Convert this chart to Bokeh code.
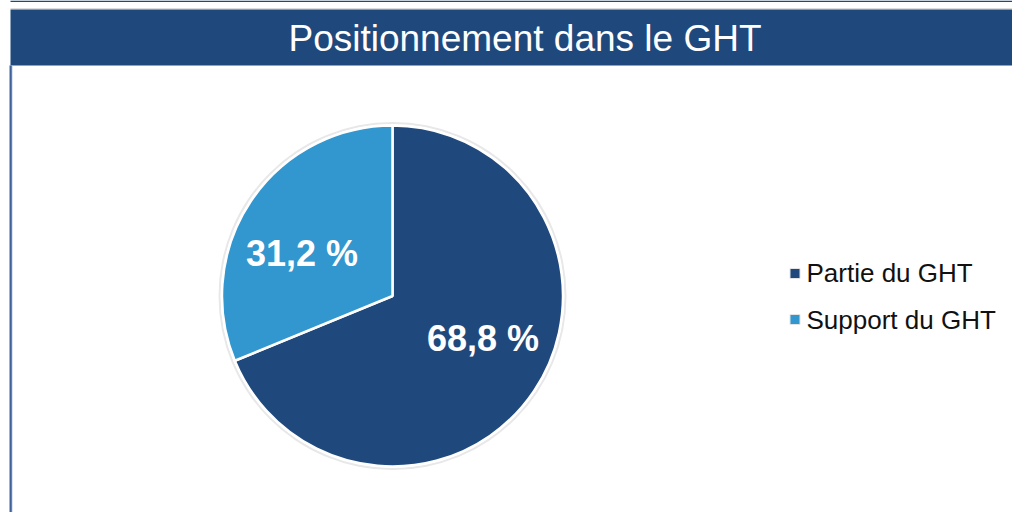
import math
from bokeh.plotting import figure
from bokeh.models import Range1d, ColumnDataSource
from bokeh.core.properties import value
from bokeh.embed import file_html
from bokeh.resources import INLINE

categories = ["Partie du GHT", "Support du GHT"]
shares = [68.8, 31.2]
colors = ["#1F497D", "#3296CF"]
title_text = "Positionnement dans le GHT"

W, H = 1012, 512
p = figure(width=W, height=H, output_backend="svg", toolbar_location=None,
           x_range=Range1d(0, W), y_range=Range1d(0, H), min_border=0)
p.axis.visible = False
p.grid.visible = False
p.outline_line_color = None
p.background_fill_color = "white"
p.border_fill_color = "white"

# title bar and frame
p.quad(left=[10], right=[W], top=[H], bottom=[H - 1.5], fill_color="#1F497D", line_color=None)
p.quad(left=[10], right=[W], top=[H - 7.5], bottom=[H - 9], fill_color="#DCDCDC", line_color=None)
p.quad(left=[10], right=[W], top=[H - 9], bottom=[H - 65], fill_color="#1F497D", line_color=None)
p.quad(left=[8.5], right=[12], top=[H - 65], bottom=[0], fill_color="#B8C7DD", line_color=None)
p.quad(left=[9.3], right=[11.2], top=[H - 65], bottom=[0], fill_color="#3F629A", line_color=None)
p.text(x=[524.5], y=[H - 37.5], text=[title_text], text_color="white",
       text_font=value("Liberation Sans"), text_font_size="37px",
       text_align="center", text_baseline="middle")

# pie
cx, cy, R = 392, H - 295.5, 170.5
label_r, label_turn = 100, 0.15
total = sum(shares)
starts, ends, lx, ly, ltxt = [], [], [], [], []
acc = 0.0
for v in shares:
    a0 = math.pi / 2 - 2 * math.pi * acc / total
    a1 = math.pi / 2 - 2 * math.pi * (acc + v) / total
    starts.append(a0)
    ends.append(a1)
    mid = (a0 + a1) / 2 + label_turn
    lx.append(cx + label_r * math.cos(mid))
    ly.append(cy + label_r * math.sin(mid))
    ltxt.append(f"{v:.1f} %".replace(".", ","))
    acc += v

p.circle(x=[cx], y=[cy], radius=R + 3.5, fill_color="#E8E8E8", line_color=None)
p.circle(x=[cx], y=[cy], radius=R + 1.5, fill_color="white", line_color=None)
src = ColumnDataSource(dict(start=starts, end=ends, color=colors))
p.wedge(x=cx, y=cy, radius=R, start_angle="start", end_angle="end", direction="clock",
        fill_color="color", line_color="white", line_width=2.5, source=src)
p.text(x=lx, y=ly, text=ltxt, text_color="white", text_font=value("Liberation Sans"),
       text_font_style="bold", text_font_size="36px", text_align="center",
       text_baseline="middle")

# legend
ys = [H - 273, H - 319]
p.scatter(x=[794.5] * 2, y=ys, marker="square", size=10, fill_color=colors,
          line_color="#E4E4E4", line_width=1)
p.text(x=[806] * 2, y=[H - 272.5, H - 319], text=categories, text_color="#111111",
       text_font=value("Liberation Sans"), text_font_size="26px",
       text_baseline="middle", text_align="left")

open("out.html", "w").write(file_html(p, INLINE))
